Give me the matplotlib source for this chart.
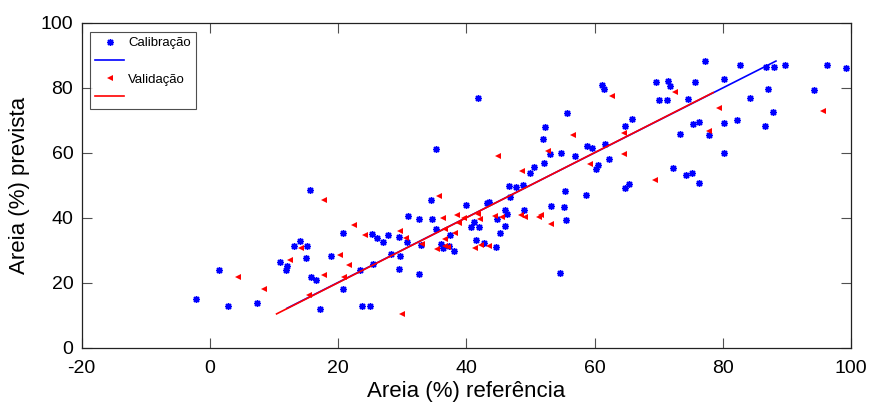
# dispersao_areia.py — Areia (%) prevista vs referência, calibração e validação

import matplotlib
matplotlib.use("Agg")
import matplotlib.pyplot as plt

OUTPUT = "out.png"

# Calibração: referência (x) e previsto (y)
cal_ref = [-2.2, 1.4, 2.8, 7.4, 15.6, 10.9, 11.8, 12.1, 13.1, 14.0,
           15.2, 15.0, 15.7, 16.6, 17.1, 18.9, 20.8, 20.7, 23.7, 25.0,
           23.4, 25.5, 25.3, 26.1, 27.0, 27.8, 28.2, 29.5, 29.6, 29.5,
           30.8, 30.9, 46.6, 47.8, 48.8, 34.5, 32.6, 34.7, 40.0, 43.2,
           43.6, 46.8, 46.0, 46.3, 44.8, 49.0, 46.1, 45.2, 41.2, 40.8,
           41.9, 35.2, 37.5, 41.5, 42.7, 44.6, 33.0, 36.1, 36.3, 37.3,
           38.0, 32.6, 53.2, 55.3, 55.4, 55.6, 58.7, 54.6, 64.7, 65.4,
           41.8, 35.2, 61.2, 61.5, 55.7, 52.2, 52.0, 64.7, 58.8, 59.6,
           61.7, 54.8, 53.1, 56.9, 52.1, 50.5, 50.0, 60.6, 60.3, 62.2,
           77.2, 82.7, 86.7, 88.0, 89.7, 96.3, 99.3, 69.6, 71.5, 71.8,
           75.7, 80.2, 70.1, 71.3, 74.6, 87.1, 84.2, 94.3, 87.9, 65.9,
           75.3, 76.3, 80.2, 82.2, 86.6, 73.3, 77.8, 80.2, 72.2, 74.3,
           75.2, 76.3]
cal_prev = [14.9, 23.8, 12.9, 13.8, 48.4, 26.4, 23.8, 25.1, 31.2, 32.7,
            31.4, 27.7, 21.8, 20.9, 11.8, 28.3, 35.2, 18.2, 12.7, 12.8,
            23.8, 25.7, 34.9, 33.7, 32.5, 34.7, 28.8, 34.0, 28.3, 24.1,
            32.6, 40.6, 49.7, 49.4, 50.2, 45.4, 39.5, 39.7, 43.8, 44.5,
            44.7, 46.3, 42.4, 41.2, 39.6, 42.4, 37.5, 35.2, 38.8, 37.2,
            37.2, 36.4, 34.6, 33.1, 32.3, 31.0, 31.5, 32.0, 30.6, 31.3,
            29.7, 22.7, 43.7, 43.4, 48.2, 39.3, 47.1, 22.9, 49.0, 50.4,
            76.9, 61.2, 80.8, 79.5, 72.2, 67.8, 64.3, 68.2, 62.2, 61.5,
            62.6, 59.9, 59.5, 59.1, 56.9, 55.6, 53.7, 56.1, 55.0, 58.1,
            88.2, 86.9, 86.3, 86.3, 86.9, 86.9, 86.1, 81.8, 82.2, 80.4,
            81.9, 82.8, 76.2, 76.2, 76.5, 79.6, 76.9, 79.3, 72.5, 70.4,
            68.9, 69.5, 69.1, 70.2, 68.2, 65.7, 65.4, 59.9, 55.2, 53.2,
            53.8, 50.6]

# Validação: referência (x) e previsto (y)
val_ref = [17.8, 4.4, 8.4, 12.5, 14.2, 17.8, 15.5, 20.3, 21.7, 22.4,
           24.2, 20.9, 29.7, 30.6, 30.0, 35.7, 36.3, 38.6, 39.7, 41.8,
           42.1, 38.9, 36.6, 38.2, 36.6, 33.1, 35.4, 36.6, 37.1, 41.4,
           42.3, 43.6, 44.4, 45.5, 48.6, 49.2, 51.3, 51.6, 53.2, 62.8,
           56.7, 52.7, 45.0, 48.7, 59.3, 64.6, 64.6, 72.5, 79.4, 95.6,
           77.8, 69.5]
val_prev = [45.5, 21.8, 18.0, 27.0, 30.7, 22.3, 16.1, 28.6, 25.5, 37.8,
            34.7, 21.8, 36.0, 33.8, 10.3, 46.8, 39.9, 40.8, 40.0, 41.2,
            39.5, 38.3, 36.4, 35.4, 33.3, 31.8, 30.5, 31.3, 31.1, 30.7,
            31.6, 31.4, 40.5, 40.1, 40.8, 40.1, 40.1, 40.8, 38.0, 77.4,
            65.4, 60.6, 59.0, 54.3, 56.5, 66.0, 59.7, 78.7, 73.8, 72.9,
            66.7, 51.7]

# Retas ajustadas (extremos)
cal_fit_x = [12.0, 88.3]
cal_fit_y = [12.1, 88.2]
val_fit_x = [10.4, 78.5]
val_fit_y = [10.4, 78.5]

X_TICKS = [-20, 0, 20, 40, 60, 80, 100]
Y_TICKS = [0, 20, 40, 60, 80, 100]

ASTERISK = (8, 2, 0)


def plot_dispersao():
    plt.rcParams["font.family"] = ["Liberation Sans", "DejaVu Sans"]
    plt.rcParams["axes.unicode_minus"] = False

    fig = plt.figure(figsize=(8.71, 4.15), dpi=100)
    ax = fig.add_axes([0.0938, 0.1622, 0.8832, 0.7831])

    h_cal = ax.plot(cal_ref, cal_prev, linestyle="none", marker=ASTERISK,
                    markersize=5, markeredgewidth=1.0, color="#0000ff")[0]
    h_cal_fit = ax.plot(cal_fit_x, cal_fit_y, color="#0000ff", linewidth=1.2)[0]
    h_val = ax.plot(val_ref, val_prev, linestyle="none", marker="<",
                    markersize=4.5, color="#ff0000", markeredgewidth=0)[0]
    h_val_fit = ax.plot(val_fit_x, val_fit_y, color="#ff0000", linewidth=1.2)[0]

    ax.set_xlim(-20, 100)
    ax.set_ylim(0, 100)
    ax.set_xticks(X_TICKS)
    ax.set_yticks(Y_TICKS)
    ax.tick_params(direction="in", top=True, right=True, length=7,
                   width=0.8, labelsize=14, color="#505050",
                   labelcolor="black")
    ax.tick_params(axis="x", pad=9)
    ax.tick_params(axis="y", pad=6)
    for s in ax.spines.values():
        s.set_linewidth(0.9)
        s.set_color("#222222")

    ax.set_xlabel("Areia (%) referência", fontsize=16, labelpad=3)
    ax.set_ylabel("Areia (%) prevista", fontsize=16, labelpad=8)

    leg = ax.legend([h_cal, h_cal_fit, h_val, h_val_fit],
                    ["Calibração", "", "Validação", ""],
                    loc="upper left", bbox_to_anchor=(0.011, 0.972),
                    fontsize=9.5, frameon=True, fancybox=False,
                    handlelength=2.2, handletextpad=0.3, labelspacing=0.45,
                    borderpad=0.4, borderaxespad=0)
    leg.get_frame().set_edgecolor("#222222")
    leg.get_frame().set_linewidth(0.8)

    fig.savefig(OUTPUT, dpi=100)


if __name__ == "__main__":
    plot_dispersao()
